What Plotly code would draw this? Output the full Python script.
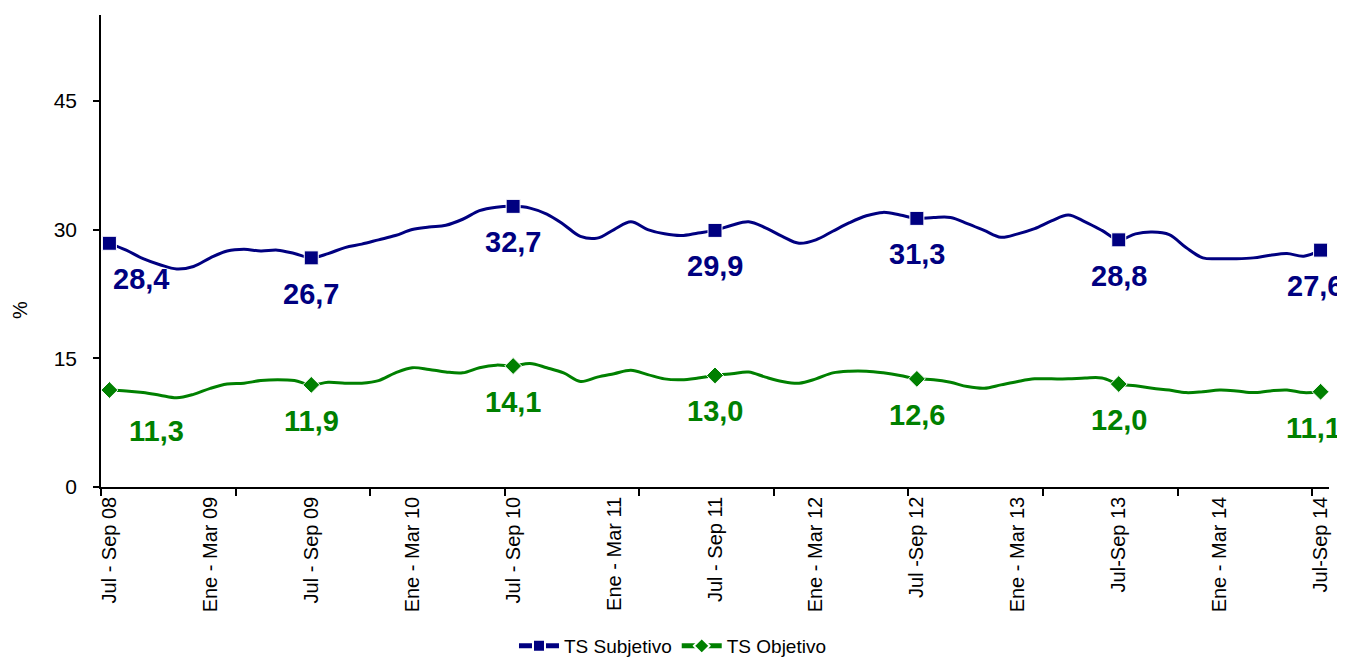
import plotly.graph_objects as go

# Monthly rolling quarters, Jul-Sep 2008 .. Jul-Sep 2014 (73 points)
months = ["Ene", "Feb", "Mar", "Abr", "May", "Jun", "Jul", "Ago", "Sep", "Oct", "Nov", "Dic"]
categories = []
for k in range(73):
    m0 = 6 + k
    s = m0 % 12
    m2 = m0 + 2
    y2, e = 8 + m2 // 12, m2 % 12
    categories.append(f"{months[s]} - {months[e]} {y2:02d}")

tick_labels = ["Jul - Sep 08", "Ene - Mar 09", "Jul - Sep 09", "Ene - Mar 10", "Jul - Sep 10",
               "Ene - Mar 11", "Jul - Sep 11", "Ene - Mar 12", "Jul -Sep 12", "Ene - Mar 13",
               "Jul-Sep 13", "Ene - Mar 14", "Jul-Sep 14"]

ts_subjetivo = [28.4, 27.6, 26.6, 25.9, 25.4, 25.7, 26.7, 27.5, 27.7, 27.5, 27.6, 27.2,
                26.7, 27.2, 27.9, 28.3, 28.8, 29.3, 30.0, 30.3, 30.5, 31.2, 32.2, 32.6,
                32.7, 32.5, 31.8, 30.6, 29.2, 29.0, 30.0, 30.9, 30.0, 29.5, 29.3, 29.6,
                29.9, 30.5, 30.9, 30.2, 29.2, 28.4, 28.8, 29.8, 30.8, 31.6, 32.0, 31.7,
                31.3, 31.4, 31.4, 30.7, 29.9, 29.1, 29.5, 30.1, 31.0, 31.7, 30.9, 29.9,
                28.8, 29.5, 29.7, 29.4, 27.9, 26.7, 26.6, 26.6, 26.7, 27.0, 27.2, 26.9,
                27.6]

ts_objetivo = [11.3, 11.2, 11.0, 10.7, 10.4, 10.8, 11.5, 12.0, 12.1, 12.4, 12.5, 12.4,
               11.9, 12.2, 12.1, 12.1, 12.4, 13.3, 13.9, 13.7, 13.4, 13.3, 13.9, 14.2,
               14.1, 14.4, 13.9, 13.3, 12.3, 12.8, 13.2, 13.6, 13.1, 12.6, 12.5, 12.7,
               13.0, 13.2, 13.4, 12.8, 12.3, 12.1, 12.6, 13.3, 13.5, 13.5, 13.3, 13.0,
               12.6, 12.5, 12.2, 11.7, 11.5, 11.9, 12.3, 12.6, 12.6, 12.6, 12.7, 12.7,
               12.0, 11.8, 11.5, 11.3, 11.0, 11.1, 11.3, 11.2, 11.0, 11.2, 11.3, 11.0,
               11.1]

labeled_idx = [0, 12, 24, 36, 48, 60, 72]  # Jul-Sep of each year

# label placement styles (px)
subj_xshift = [32, 0, 0, 0, 0, 0, -6]
obj_xshift = [47, 0, 0, 0, 0, 0, -7]
obj_yshift = [-41, -36, -36, -36, -36, -36, -36]

BLUE = "#000080"
GREEN = "#008000"
FONT = "Liberation Sans, Arial, sans-serif"

x = list(range(len(categories)))


def sizes(n, s):
    return [s if i in labeled_idx else 0 for i in range(n)]


fig = go.Figure()
fig.add_trace(go.Scatter(
    x=x, y=ts_subjetivo, name="TS Subjetivo", mode="lines+markers",
    line=dict(color=BLUE, width=3, shape="spline", smoothing=1.0),
    marker=dict(symbol="square", size=sizes(len(x), 14), color=BLUE, opacity=1),
    text=categories, hoverinfo="text+y",
))
fig.add_trace(go.Scatter(
    x=x, y=ts_objetivo, name="TS Objetivo", mode="lines+markers",
    line=dict(color=GREEN, width=3, shape="spline", smoothing=1.0),
    marker=dict(symbol="diamond", size=sizes(len(x), 13), color=GREEN, opacity=1),
    text=categories, hoverinfo="text+y",
))

annotations = []
for j, i in enumerate(labeled_idx):
    annotations.append(dict(
        x=x[i], y=ts_subjetivo[i], xref="x", yref="y",
        text=f"{ts_subjetivo[i]:.1f}".replace(".", ","), showarrow=False,
        xanchor="center", yanchor="middle", xshift=subj_xshift[j], yshift=-36,
        font=dict(family=FONT, size=29, color=BLUE, weight="bold"),
    ))
    annotations.append(dict(
        x=x[i], y=ts_objetivo[i], xref="x", yref="y",
        text=f"{ts_objetivo[i]:.1f}".replace(".", ","), showarrow=False,
        xanchor="center", yanchor="middle", xshift=obj_xshift[j], yshift=obj_yshift[j],
        font=dict(family=FONT, size=29, color=GREEN, weight="bold"),
    ))

# y-axis title "%" (placed like the reference, below the vertical centre)
annotations.append(dict(
    x=0, y=0.375, xref="paper", yref="paper", text="%", showarrow=False,
    textangle=-90, xanchor="center", yanchor="middle", xshift=-81,
    font=dict(family=FONT, size=20, color="black"),
))

# the page has an 8px body margin: figure is sized to fill the remaining window
fig.update_layout(
    width=1337, height=657,
    margin=dict(l=93, r=16, t=7, b=178, autoexpand=False),
    paper_bgcolor="white", plot_bgcolor="white",
    font=dict(family=FONT, color="black"),
    showlegend=True,
    legend=dict(orientation="h", xref="container", yref="container",
                x=0.497, xanchor="center", y=-0.008, yanchor="bottom",
                font=dict(family=FONT, size=19, color="black"),
                itemsizing="constant", itemwidth=40, bgcolor="rgba(0,0,0,0)"),
    annotations=annotations,
)

fig.update_xaxes(
    range=[-0.5, 72.5], showgrid=False, zeroline=False,
    showline=True, linecolor="black", linewidth=1.5,
    tickmode="array", tickvals=[x[i] for i in range(0, len(x), 6)], ticktext=tick_labels,
    tickangle=-90, ticks="", tickfont=dict(family=FONT, size=20, color="black"),
    minor=dict(tick0=-0.5, dtick=8, ticks="outside", ticklen=7, tickcolor="black", tickwidth=1.5),
)
fig.update_yaxes(
    range=[0, 55], showgrid=False, zeroline=False,
    showline=True, linecolor="black", linewidth=1.5,
    tickmode="array", tickvals=[0, 15, 30, 45],
    ticks="outside", ticklen=6, tickcolor="black", tickwidth=1.5,
    ticklabelstandoff=12,
    tickfont=dict(family=FONT, size=21, color="black"),
)

fig.write_html("out.html")
